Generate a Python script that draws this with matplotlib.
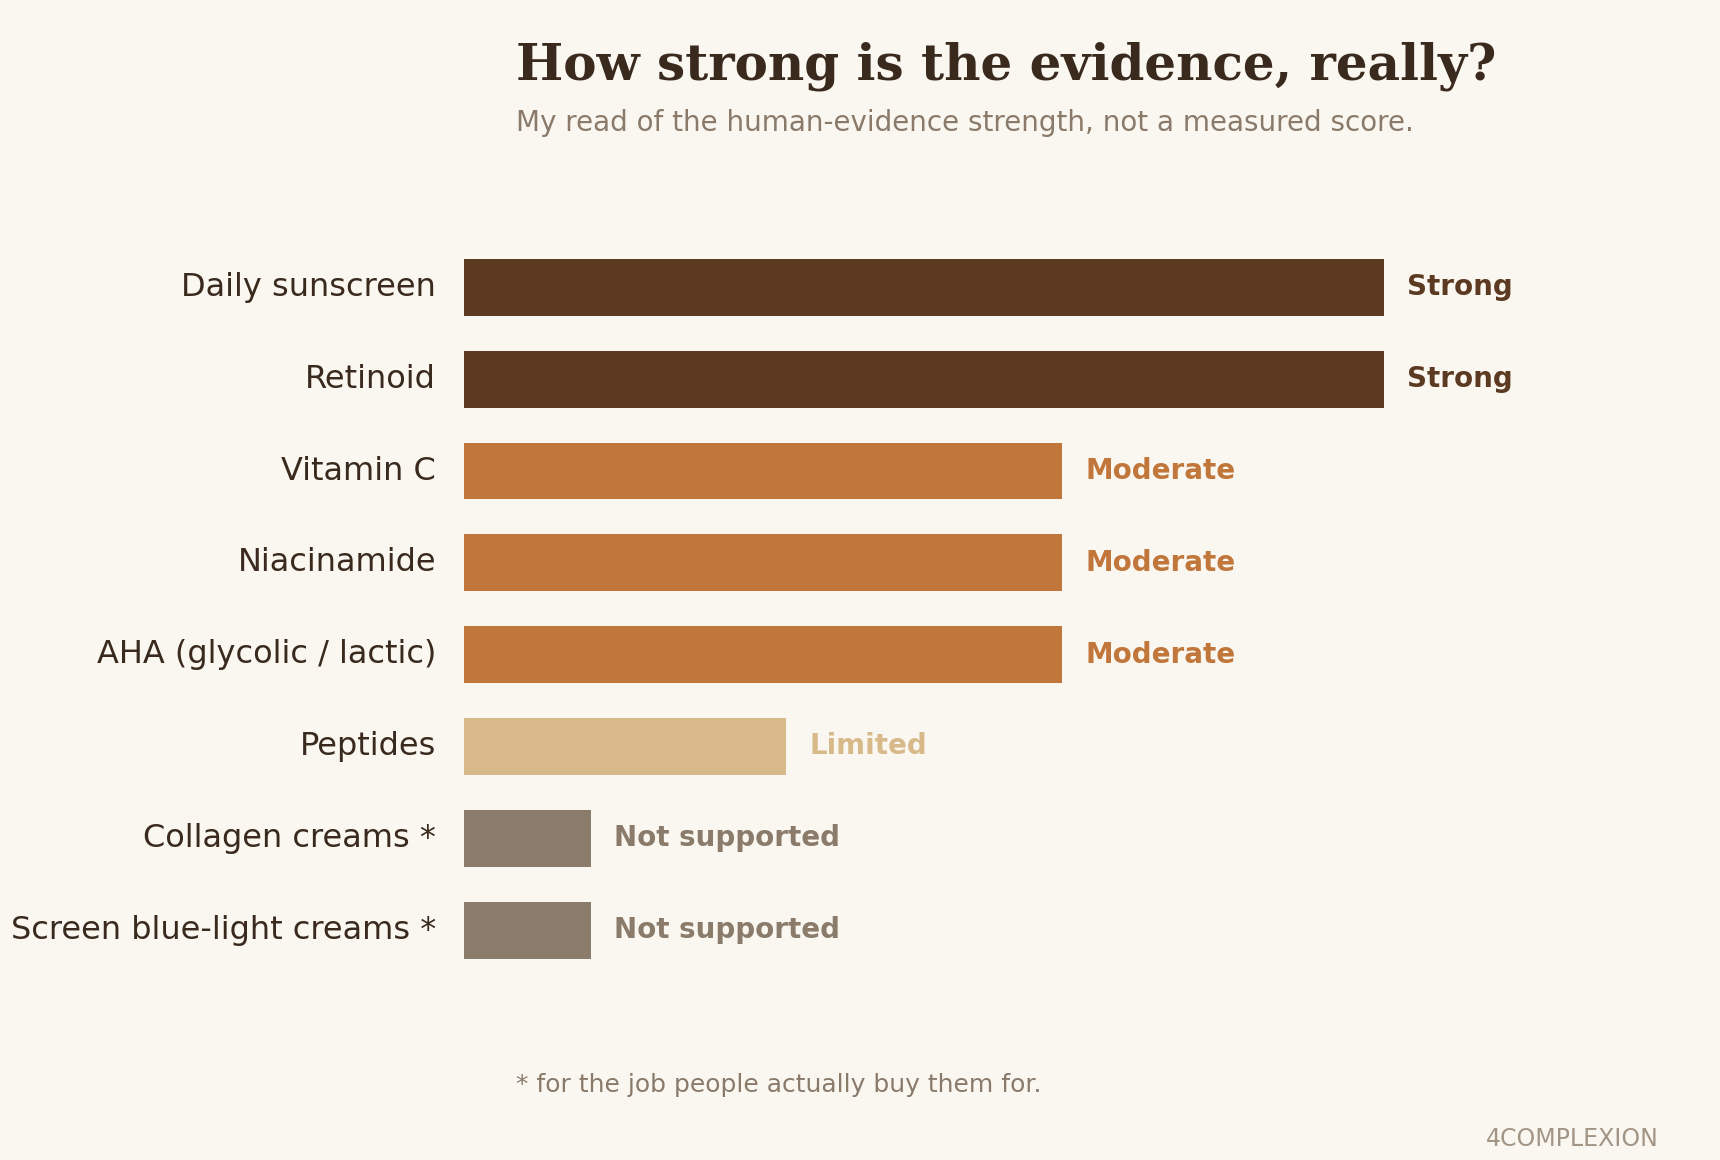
import matplotlib
matplotlib.use("Agg")
import matplotlib.pyplot as plt

categories = ["Daily sunscreen", "Retinoid", "Vitamin C", "Niacinamide",
              "AHA (glycolic / lactic)", "Peptides", "Collagen creams *",
              "Screen blue-light creams *"]
levels = ["Strong", "Strong", "Moderate", "Moderate", "Moderate", "Limited",
          "Not supported", "Not supported"]
level_scores = {"Strong": 100, "Moderate": 65, "Limited": 35, "Not supported": 13.8}
level_colors = {"Strong": "#5c3a21", "Moderate": "#c1773b",
                "Limited": "#d8b98a", "Not supported": "#8b7b6a"}

title = "How strong is the evidence, really?"
subtitle = "My read of the human-evidence strength, not a measured score."
footnote = "* for the job people actually buy them for."
brand = "4COMPLEXION"

BG = "#faf7f1"
DARK = "#3a2a1e"
MUTED = "#8a7a6a"

fig = plt.figure(figsize=(17.2, 11.6), dpi=100, facecolor=BG)
ax = fig.add_axes([464/1720, 1-976/1160, (1384-464)/1720, (976-241.5)/1160])
ax.set_facecolor(BG)

values = [level_scores[l] for l in levels]
colors = [level_colors[l] for l in levels]
ypos = list(range(len(categories)))
ax.barh(ypos, values, height=0.62, color=colors)
ax.set_xlim(0, 100)
ax.set_ylim(len(categories) - 0.5, -0.5)
ax.set_yticks(ypos)
ax.set_yticklabels(categories, fontsize=23, color=DARK, va="center")
ax.tick_params(axis="y", length=0, pad=20)
ax.set_xticks([])
for s in ax.spines.values():
    s.set_visible(False)

for y, v, l, c in zip(ypos, values, levels, colors):
    ax.annotate(l, xy=(v, y), xytext=(23, 0), textcoords="offset pixels",
                ha="left", va="center", fontsize=20, fontweight="bold",
                color=c, annotation_clip=False)

fig.text(515.6/1720, 1-79.3/1160, title, family="DejaVu Serif", fontweight="bold",
         fontsize=36, color=DARK, ha="left", va="baseline")
fig.text(515.6/1720, 1-130.7/1160, subtitle, fontsize=20, color=MUTED,
         ha="left", va="baseline")
fig.text(515.6/1720, 1-1091.7/1160, footnote, fontsize=18, color=MUTED,
         ha="left", va="baseline")
fig.text(1658.6/1720, 1-1145.7/1160, brand, fontsize=17, color="#a39585",
         ha="right", va="baseline")

fig.savefig("out.png", dpi=100, facecolor=BG)
